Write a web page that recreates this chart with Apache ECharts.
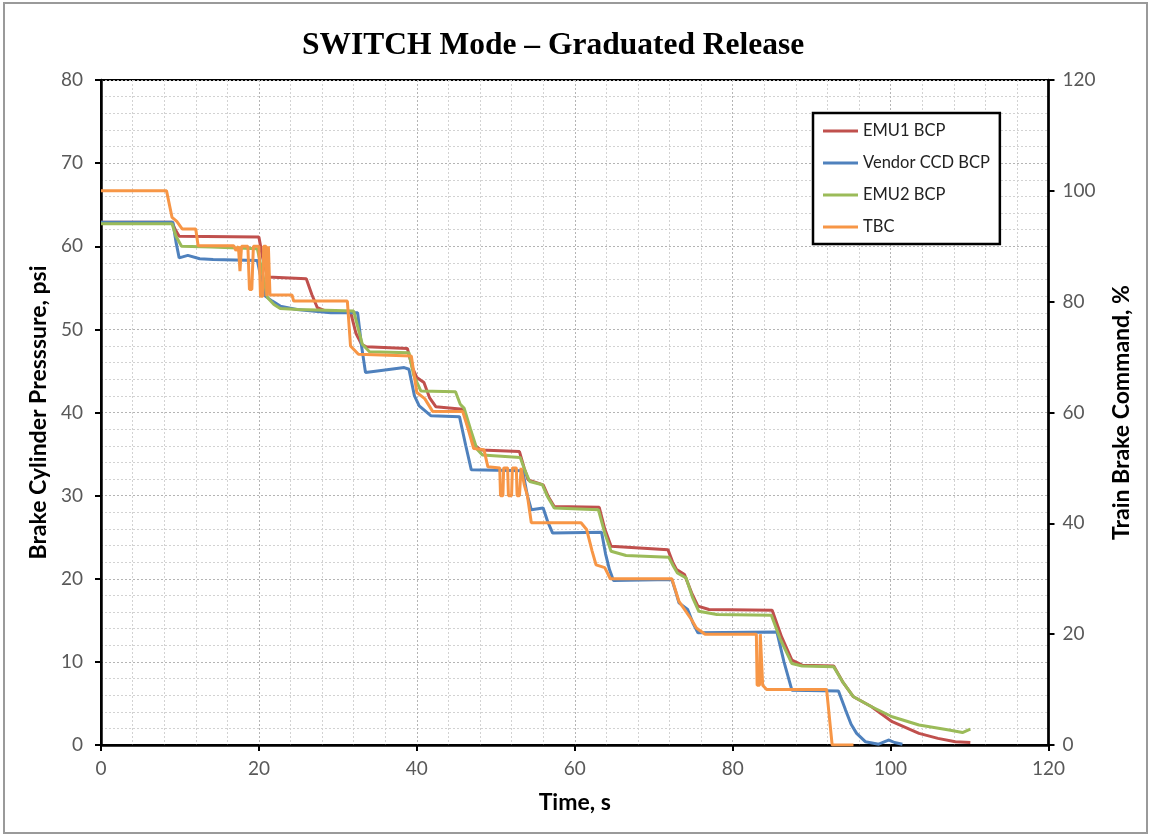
<!DOCTYPE html>
<html>
<head>
<meta charset="utf-8">
<script src="https://cdn.jsdelivr.net/npm/echarts@6/dist/echarts.min.js"></script>
<style>
html,body{margin:0;padding:0;background:#fff;}
#chart{width:1151px;height:836px;}
</style>
</head>
<body>
<div id="chart"></div>
<script>
// ---- Data ----
const seriesNames = ['EMU1 BCP', 'Vendor CCD BCP', 'EMU2 BCP', 'TBC'];
const xTicks = [0, 20, 40, 60, 80, 100, 120];
const leftTicks = [0, 10, 20, 30, 40, 50, 60, 70, 80];
const rightTicks = [0, 20, 40, 60, 80, 100, 120];

// EMU1 BCP (psi)
const emu1Time = [0, 9.0, 9.4, 9.9, 20.0, 20.5, 21.1, 26.0, 26.7, 27.4, 28.5, 31.6, 32.3, 33.0, 33.6, 38.8, 39.4, 40.0, 40.9, 41.6, 42.4, 45.8, 46.6, 47.4, 48.1, 53.0, 53.6, 54.1, 56.0, 56.7, 57.4, 63.1, 63.8, 64.6, 71.8, 72.4, 72.9, 73.9, 74.8, 75.6, 77.0, 85.0, 86.2, 87.5, 88.8, 92.8, 94.0, 95.3, 97.6, 100.2, 103.6, 106.0, 108.2, 110.1];
const emu1Bcp  = [62.9, 62.9, 62.0, 61.2, 61.1, 58.5, 56.3, 56.1, 54.2, 52.6, 52.2, 52.1, 49.5, 48.2, 47.9, 47.7, 45.5, 44.2, 43.6, 41.8, 40.7, 40.4, 38.0, 36.0, 35.5, 35.3, 33.3, 31.9, 31.3, 29.8, 28.7, 28.6, 26.0, 23.9, 23.5, 22.0, 21.1, 20.5, 18.3, 16.7, 16.3, 16.2, 13.0, 10.2, 9.6, 9.5, 7.5, 5.8, 4.6, 2.8, 1.4, 0.8, 0.4, 0.3];

// Vendor CCD BCP (psi)
const vendorTime = [0, 9.1, 9.5, 9.9, 11.0, 12.5, 14.2, 19.8, 20.3, 20.8, 21.7, 22.7, 24.8, 29.1, 32.5, 33.0, 33.5, 35.0, 38.4, 39.0, 39.7, 40.3, 41.8, 45.4, 46.2, 46.9, 53.4, 54.0, 54.5, 56.0, 56.6, 57.2, 63.4, 63.9, 64.4, 64.9, 72.3, 72.8, 73.2, 74.3, 75.0, 75.6, 85.6, 86.5, 87.5, 93.4, 94.3, 95.0, 95.7, 96.8, 98.5, 99.5, 99.8, 100.5, 101.5];
const vendorBcp  = [62.9, 62.9, 60.5, 58.6, 58.9, 58.5, 58.4, 58.3, 56.0, 54.0, 53.4, 52.8, 52.4, 52.0, 52.0, 48.0, 44.8, 45.0, 45.4, 45.2, 42.0, 40.8, 39.6, 39.5, 36.0, 33.1, 33.0, 30.0, 28.3, 28.5, 26.8, 25.5, 25.6, 23.0, 21.1, 19.8, 19.9, 18.4, 17.1, 16.3, 14.6, 13.5, 13.6, 10.0, 6.6, 6.5, 4.2, 2.5, 1.4, 0.4, 0.1, 0.5, 0.6, 0.3, 0.1];

// EMU2 BCP (psi)
const emu2Time = [0, 9.0, 9.5, 10.2, 14.0, 19.8, 20.4, 21.1, 21.9, 22.7, 25.0, 32.0, 32.6, 33.1, 34.0, 39.0, 39.6, 40.5, 44.9, 45.5, 46.0, 46.8, 47.6, 48.3, 53.1, 53.7, 54.3, 55.9, 56.6, 57.4, 63.0, 63.8, 64.6, 66.5, 71.9, 72.5, 73.0, 74.1, 74.9, 75.7, 78.0, 84.9, 86.0, 87.5, 88.8, 92.8, 94.0, 95.3, 97.6, 100.2, 103.6, 107.4, 109.1, 110.1];
const emu2Bcp  = [62.7, 62.7, 61.2, 60.0, 59.9, 59.7, 57.0, 53.8, 53.0, 52.5, 52.4, 52.2, 50.0, 48.2, 47.3, 47.2, 44.5, 42.6, 42.5, 41.0, 40.5, 38.0, 35.6, 34.9, 34.6, 33.0, 31.7, 31.3, 29.8, 28.5, 28.3, 25.5, 23.3, 22.8, 22.6, 21.5, 20.7, 20.1, 17.8, 16.1, 15.7, 15.6, 12.8, 9.8, 9.5, 9.4, 7.5, 5.8, 4.6, 3.4, 2.4, 1.8, 1.5, 1.9];

// TBC (%)
const tbcTime = [0, 8.3, 9.0, 9.6, 10.3, 12.0, 12.3, 16.8, 17.1, 17.4, 17.6, 17.8, 18.6, 18.8, 19.1, 19.3, 20.0, 20.2, 20.5, 20.6, 20.9, 21.0, 21.2, 21.4, 24.2, 24.4, 31.2, 31.6, 32.6, 39.3, 40.0, 41.0, 42.0, 45.8, 46.5, 47.2, 48.5, 49.0, 50.5, 50.6, 50.9, 51.0, 51.5, 51.6, 52.0, 52.1, 52.6, 52.7, 53.0, 53.2, 53.6, 54.0, 54.5, 60.8, 61.5, 62.2, 62.7, 63.8, 64.5, 72.3, 73.2, 74.8, 75.4, 76.5, 83.0, 83.1, 83.4, 83.5, 83.7, 83.8, 84.0, 84.3, 91.9, 92.6, 95.3];
const tbcPct  = [100, 100, 95.2, 94.5, 93.1, 93.1, 90.1, 90.1, 89.2, 90, 85.5, 90, 90, 82.2, 82.2, 90, 90, 81, 81, 90, 90, 81, 90, 81.2, 81.2, 80.1, 80.1, 72, 70.5, 70.2, 63.6, 62.5, 60.2, 60.2, 57, 53.5, 53.3, 50.2, 50, 45, 45, 50, 50, 45, 45, 50, 50, 45, 45, 50, 47, 45, 40.1, 40.1, 38.9, 35, 32.5, 32, 30, 30, 25.9, 22.6, 21.1, 20, 20, 10.8, 10.8, 20, 20, 10.8, 10.8, 10, 10, 0, 0];

const colors = ['#C0504D', '#4F81BD', '#9BBB59', '#F79646'];

function pairs(ts, vs) { return ts.map((t, i) => [t, vs[i]]); }

const chart = echarts.init(document.getElementById('chart'), null, {renderer: 'canvas'});
const tickFont = {fontFamily: 'Lato', fontSize: 19, color: '#595959'};
const nameFont = {fontFamily: 'Lato', fontSize: 23, fontWeight: 'bold', color: '#000'};
const majorGrid = {show: true, lineStyle: {color: '#b4b4b4', width: 1, type: [2, 2]}};
const minorGrid = {show: true, lineStyle: {color: '#d2d2d2', width: 1, type: [2, 2]}};

const option = {
  animation: false,
  backgroundColor: '#fff',
  color: colors,
  title: {
    text: 'SWITCH Mode \u2013 Graduated Release',
    left: 297,
    top: 25,
    textStyle: {fontFamily: 'Liberation Serif', fontSize: 31.5, fontWeight: 'bold', color: '#000'}
  },
  graphic: [{
    type: 'rect', silent: true, z: -1,
    shape: {x: 4, y: 3, width: 1143, height: 830},
    style: {fill: 'none', stroke: '#9a9a9a', lineWidth: 2}
  }],
  legend: {
    data: seriesNames,
    orient: 'vertical',
    left: 813, top: 113,
    padding: [9, 10, 8, 10],
    itemGap: 14,
    itemWidth: 35, itemHeight: 3,
    icon: 'rect',
    backgroundColor: '#fff',
    borderColor: '#000', borderWidth: 2.5,
    textStyle: {fontFamily: 'Lato', fontSize: 16.5, color: '#222', lineHeight: 18}
  },
  grid: {
    left: 101, right: 102.5, top: 80, bottom: 91,
    show: true, borderColor: '#000', borderWidth: 2, backgroundColor: 'transparent'
  },
  xAxis: {
    type: 'value', min: 0, max: 120, interval: 20,
    name: 'Time, s', nameLocation: 'middle', nameGap: 46, nameTextStyle: nameFont,
    axisLine: {show: true, onZero: false, lineStyle: {color: '#000', width: 2.5}},
    axisTick: {show: true, length: 6, lineStyle: {color: '#000', width: 2}},
    axisLabel: Object.assign({margin: 14, formatter: v => xTicks.includes(v) ? String(v) : ''}, tickFont),
    splitLine: majorGrid,
    minorTick: {show: false, splitNumber: 5},
    minorSplitLine: minorGrid
  },
  yAxis: [{
    type: 'value', min: 0, max: 80, interval: 10, position: 'left',
    name: 'Brake Cylinder Presssure, psi', nameLocation: 'middle', nameGap: 47, nameTextStyle: nameFont,
    axisLine: {show: true, onZero: false, lineStyle: {color: '#000', width: 2.5}},
    axisTick: {show: true, length: 6, lineStyle: {color: '#000', width: 2}},
    axisLabel: Object.assign({margin: 18, formatter: v => leftTicks.includes(v) ? String(v) : ''}, tickFont),
    splitLine: majorGrid,
    minorTick: {show: false, splitNumber: 5},
    minorSplitLine: minorGrid
  }, {
    type: 'value', min: 0, max: 120, interval: 20, position: 'right',
    name: 'Train Brake Command, %', nameLocation: 'middle', nameGap: 62, nameTextStyle: nameFont,
    axisLine: {show: true, onZero: false, lineStyle: {color: '#000', width: 2.5}},
    axisTick: {show: true, length: 6, lineStyle: {color: '#000', width: 2}},
    axisLabel: Object.assign({margin: 14, formatter: v => rightTicks.includes(v) ? String(v) : ''}, tickFont),
    splitLine: {show: false}
  }],
  series: [
    {name: seriesNames[0], type: 'line', data: pairs(emu1Time, emu1Bcp), yAxisIndex: 0, showSymbol: false, symbol: 'none', lineStyle: {width: 3, color: colors[0]}, itemStyle: {color: colors[0]}},
    {name: seriesNames[1], type: 'line', data: pairs(vendorTime, vendorBcp), yAxisIndex: 0, showSymbol: false, symbol: 'none', lineStyle: {width: 3, color: colors[1]}, itemStyle: {color: colors[1]}},
    {name: seriesNames[2], type: 'line', data: pairs(emu2Time, emu2Bcp), yAxisIndex: 0, showSymbol: false, symbol: 'none', lineStyle: {width: 3, color: colors[2]}, itemStyle: {color: colors[2]}},
    {name: seriesNames[3], type: 'line', data: pairs(tbcTime, tbcPct), yAxisIndex: 1, showSymbol: false, symbol: 'none', lineStyle: {width: 3, color: colors[3]}, itemStyle: {color: colors[3]}}
  ]
};
chart.setOption(option);
</script>
</body>
</html>
